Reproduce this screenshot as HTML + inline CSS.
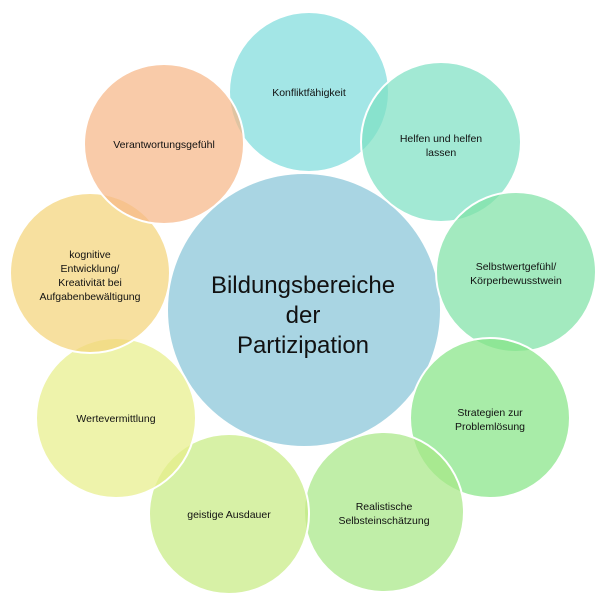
<!DOCTYPE html><html><head><style>body{margin:0;background:#fff}svg{display:block}text{font-family:"Liberation Sans",sans-serif;fill:#111}</style></head><body>
<svg width="600" height="604" viewBox="0 0 600 604">
<circle cx="304" cy="310" r="137" fill="#a9d5e3" stroke="#fff" stroke-width="2"/>
<g stroke="#fff" stroke-width="2" fill-opacity="0.72">
<circle cx="309" cy="92" r="80" fill="#7fdcdc"/>
<circle cx="441" cy="142" r="80" fill="#7ee0c4"/>
<circle cx="516" cy="272" r="80" fill="#80e2a6"/>
<circle cx="490" cy="418" r="80" fill="#86e486"/>
<circle cx="384" cy="512" r="80" fill="#a8e886"/>
<circle cx="229" cy="514" r="80" fill="#c8ec84"/>
<circle cx="116" cy="418" r="80" fill="#e8ee8a"/>
<circle cx="90" cy="273" r="80" fill="#f4d47a"/>
<circle cx="164" cy="144" r="80" fill="#f7b788"/>
</g>
<g font-size="10.5" text-anchor="middle">
<text x="309" y="96">Konfliktfähigkeit</text>
<text x="441" y="142">Helfen und helfen</text><text x="441" y="156">lassen</text>
<text x="516" y="270">Selbstwertgefühl/</text><text x="516" y="284">Körperbewusstwein</text>
<text x="490" y="416">Strategien zur</text><text x="490" y="430">Problemlösung</text>
<text x="384" y="510">Realistische</text><text x="384" y="524">Selbsteinschätzung</text>
<text x="229" y="518">geistige Ausdauer</text>
<text x="116" y="422">Wertevermittlung</text>
<text x="90" y="258">kognitive</text><text x="90" y="272">Entwicklung/</text><text x="90" y="286">Kreativität bei</text><text x="90" y="300">Aufgabenbewältigung</text>
<text x="164" y="148">Verantwortungsgefühl</text>
</g>
<g font-size="24" text-anchor="middle">
<text x="303" y="293">Bildungsbereiche</text>
<text x="303" y="323">der</text>
<text x="303" y="353">Partizipation</text>
</g>
</svg></body></html>
